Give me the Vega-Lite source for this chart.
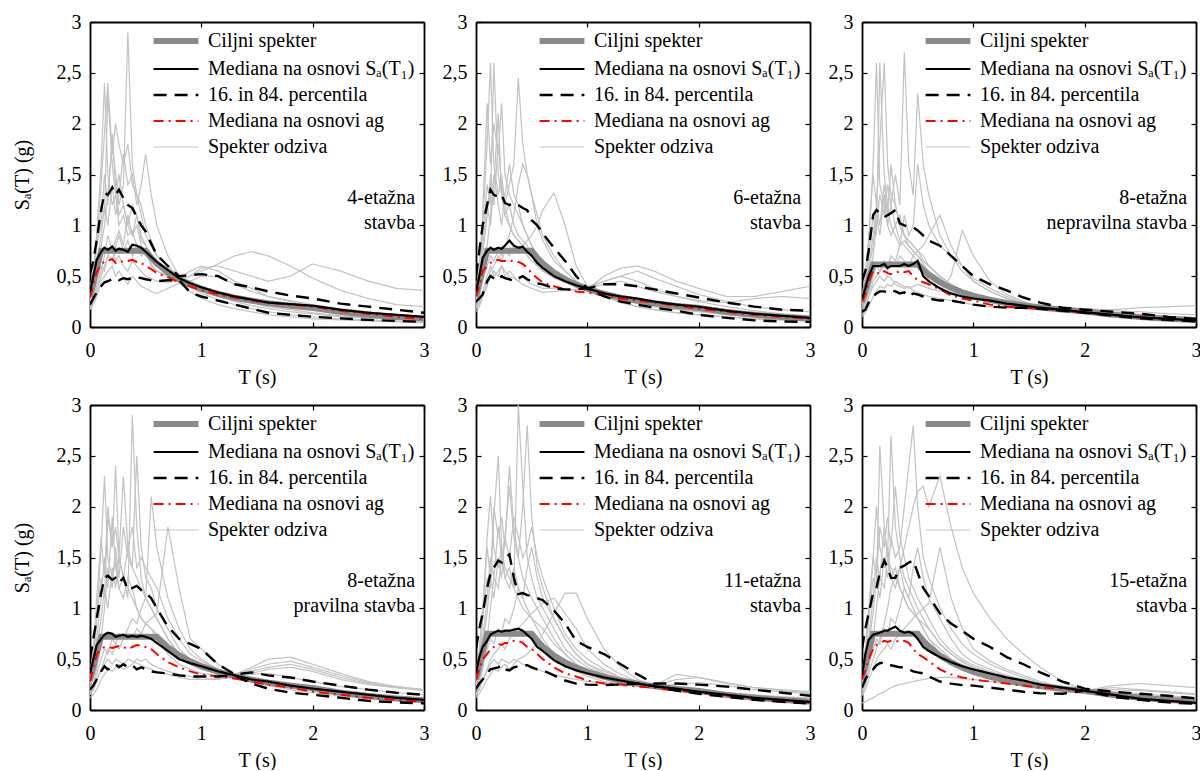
{
"$schema":"https://vega.github.io/schema/vega-lite/v6.json",
"background":"white",
"padding":{"left":12,"top":12,"right":0,"bottom":0},
"datasets":{
"keys":[{"k":"g1","s":"Spekter odziva"},{"k":"g2","s":"Spekter odziva"},{"k":"g3","s":"Spekter odziva"},{"k":"g4","s":"Spekter odziva"},{"k":"g5","s":"Spekter odziva"},{"k":"g6","s":"Spekter odziva"},{"k":"g7","s":"Spekter odziva"},{"k":"g8","s":"Spekter odziva"},{"k":"g9","s":"Spekter odziva"},{"k":"g10","s":"Spekter odziva"},{"k":"tgt","s":"Ciljni spekter"},{"k":"red","s":"Mediana na osnovi ag"},{"k":"p16","s":"16. in 84. percentila"},{"k":"p84","s":"16. in 84. percentila"},{"k":"med","s":"Mediana na osnovi S\u2090(T\u2081)"}],
"d":[
{"p":1,"T":0,"g1":0.25,"g2":0.2,"g3":0.3,"g4":0.18,"g5":0.35,"g6":0.22,"g7":0.25,"g8":0.2,"g9":0.3,"g10":0.17,"tgt":0.3,"med":0.34,"p16":0.22,"p84":0.52,"red":0.29},
{"p":1,"T":0.03,"g1":0.45,"g2":0.3,"g3":0.5,"g4":0.25,"g5":0.55,"g6":0.3,"g7":0.4,"g8":0.28,"g9":0.5,"g10":0.22,"tgt":0.435,"med":0.5,"p16":0.28,"p84":0.65,"red":0.42},
{"p":1,"T":0.06,"g1":0.9,"g2":0.5,"g3":0.8,"g4":0.35,"g5":0.9,"g6":0.45,"g7":0.6,"g8":0.4,"g9":0.8,"g10":0.3,"tgt":0.57,"med":0.66,"p16":0.34,"p84":0.85,"red":0.54},
{"p":1,"T":0.1,"g1":1.6,"g2":0.8,"g3":1.2,"g4":0.5,"g5":1.4,"g6":0.6,"g7":0.9,"g8":0.55,"g9":1,"g10":0.45,"tgt":0.75,"med":0.74,"p16":0.4,"p84":1.15,"red":0.62},
{"p":1,"T":0.13,"g1":2.4,"g2":1,"g3":1.1,"g4":0.6,"g5":1.9,"g6":0.55,"g7":1.2,"g8":0.7,"g9":1.5,"g10":0.5,"tgt":0.75,"med":0.78,"p16":0.44,"p84":1.32,"red":0.64},
{"p":1,"T":0.16,"g1":1.5,"g2":1.3,"g3":2.3,"g4":0.7,"g5":2.4,"g6":0.7,"g7":1,"g8":0.9,"g9":1.2,"g10":0.55,"tgt":0.75,"med":0.76,"p16":0.45,"p84":1.3,"red":0.65},
{"p":1,"T":0.2,"g1":1.2,"g2":1.8,"g3":1.6,"g4":0.65,"g5":1.7,"g6":0.8,"g7":1.4,"g8":0.75,"g9":1.9,"g10":0.6,"tgt":0.75,"med":0.79,"p16":0.47,"p84":1.37,"red":0.67},
{"p":1,"T":0.23,"g1":1.3,"g2":1.5,"g3":1.3,"g4":0.8,"g5":2,"g6":0.65,"g7":1.1,"g8":0.85,"g9":1.4,"g10":0.5,"tgt":0.75,"med":0.75,"p16":0.48,"p84":1.3,"red":0.63},
{"p":1,"T":0.26,"g1":1,"g2":1.2,"g3":1.5,"g4":0.9,"g5":1.8,"g6":0.7,"g7":1.3,"g8":0.95,"g9":1.1,"g10":0.55,"tgt":0.75,"med":0.77,"p16":0.46,"p84":1.35,"red":0.65},
{"p":1,"T":0.3,"g1":1.1,"g2":1.4,"g3":1.2,"g4":0.75,"g5":1.6,"g6":0.6,"g7":1.7,"g8":0.8,"g9":1.2,"g10":0.48,"tgt":0.75,"med":0.76,"p16":0.48,"p84":1.27,"red":0.64},
{"p":1,"T":0.34,"g1":0.9,"g2":2.9,"g3":1,"g4":0.85,"g5":1.8,"g6":0.55,"g7":1.4,"g8":1.1,"g9":1,"g10":0.42,"tgt":0.75,"med":0.74,"p16":0.47,"p84":1.2,"red":0.65},
{"p":1,"T":0.38,"g1":0.95,"g2":1.6,"g3":1.2,"g4":0.7,"g5":1.4,"g6":0.65,"g7":1.5,"g8":0.9,"g9":0.9,"g10":0.5,"tgt":0.75,"med":0.81,"p16":0.48,"p84":1.17,"red":0.66},
{"p":1,"T":0.42,"g1":0.8,"g2":1.3,"g3":1.1,"g4":0.8,"g5":1.3,"g6":0.6,"g7":1.2,"g8":1,"g9":1.1,"g10":0.45,"tgt":0.75,"med":0.8,"p16":0.49,"p84":1.08,"red":0.64},
{"p":1,"T":0.46,"g1":0.7,"g2":1.1,"g3":0.9,"g4":0.75,"g5":1.2,"g6":0.55,"g7":1.4,"g8":0.8,"g9":0.85,"g10":0.4,"tgt":0.75,"med":0.78,"p16":0.48,"p84":1,"red":0.63},
{"p":1,"T":0.5,"g1":0.75,"g2":0.9,"g3":0.8,"g4":0.7,"g5":1,"g6":0.5,"g7":1.7,"g8":0.75,"g9":0.8,"g10":0.38,"tgt":0.75,"med":0.74,"p16":0.47,"p84":0.94,"red":0.6},
{"p":1,"T":0.55,"g1":0.6,"g2":0.8,"g3":0.7,"g4":0.65,"g5":0.85,"g6":0.48,"g7":1.3,"g8":0.62,"g9":0.7,"g10":0.35,"tgt":0.682,"med":0.69,"p16":0.46,"p84":0.82,"red":0.57},
{"p":1,"T":0.6,"g1":0.55,"g2":0.7,"g3":0.6,"g4":0.6,"g5":0.7,"g6":0.45,"g7":1,"g8":0.55,"g9":0.65,"g10":0.33,"tgt":0.625,"med":0.64,"p16":0.45,"p84":0.71,"red":0.53},
{"p":1,"T":0.7,"g1":0.5,"g2":0.6,"g3":0.52,"g4":0.55,"g5":0.6,"g6":0.44,"g7":0.7,"g8":0.5,"g9":0.58,"g10":0.38,"tgt":0.536,"med":0.56,"p16":0.46,"p84":0.6,"red":0.49},
{"p":1,"T":0.8,"g1":0.47,"g2":0.48,"g3":0.45,"g4":0.47,"g5":0.5,"g6":0.46,"g7":0.5,"g8":0.44,"g9":0.47,"g10":0.43,"tgt":0.469,"med":0.48,"p16":0.46,"p84":0.5,"red":0.44},
{"p":1,"T":0.9,"g1":0.4,"g2":0.55,"g3":0.42,"g4":0.5,"g5":0.45,"g6":0.5,"g7":0.42,"g8":0.4,"g9":0.45,"g10":0.35,"tgt":0.417,"med":0.43,"p16":0.34,"p84":0.51,"red":0.4},
{"p":1,"T":1,"g1":0.33,"g2":0.6,"g3":0.38,"g4":0.55,"g5":0.4,"g6":0.58,"g7":0.36,"g8":0.35,"g9":0.5,"g10":0.28,"tgt":0.375,"med":0.39,"p16":0.3,"p84":0.52,"red":0.36},
{"p":1,"T":1.15,"g1":0.27,"g2":0.55,"g3":0.33,"g4":0.62,"g5":0.33,"g6":0.6,"g7":0.3,"g8":0.3,"g9":0.5,"g10":0.22,"tgt":0.326,"med":0.34,"p16":0.26,"p84":0.5,"red":0.32},
{"p":1,"T":1.3,"g1":0.22,"g2":0.45,"g3":0.3,"g4":0.7,"g5":0.28,"g6":0.55,"g7":0.25,"g8":0.26,"g9":0.42,"g10":0.18,"tgt":0.288,"med":0.3,"p16":0.22,"p84":0.42,"red":0.29},
{"p":1,"T":1.45,"g1":0.18,"g2":0.38,"g3":0.26,"g4":0.74,"g5":0.24,"g6":0.5,"g7":0.21,"g8":0.24,"g9":0.35,"g10":0.15,"tgt":0.259,"med":0.27,"p16":0.18,"p84":0.39,"red":0.26},
{"p":1,"T":1.6,"g1":0.15,"g2":0.3,"g3":0.22,"g4":0.7,"g5":0.2,"g6":0.45,"g7":0.18,"g8":0.22,"g9":0.3,"g10":0.12,"tgt":0.234,"med":0.24,"p16":0.14,"p84":0.35,"red":0.24},
{"p":1,"T":1.8,"g1":0.12,"g2":0.25,"g3":0.2,"g4":0.6,"g5":0.17,"g6":0.5,"g7":0.15,"g8":0.2,"g9":0.26,"g10":0.1,"tgt":0.208,"med":0.225,"p16":0.12,"p84":0.31,"red":0.22},
{"p":1,"T":2,"g1":0.1,"g2":0.2,"g3":0.17,"g4":0.48,"g5":0.14,"g6":0.62,"g7":0.13,"g8":0.18,"g9":0.22,"g10":0.08,"tgt":0.188,"med":0.21,"p16":0.1,"p84":0.28,"red":0.2},
{"p":1,"T":2.25,"g1":0.08,"g2":0.16,"g3":0.14,"g4":0.36,"g5":0.11,"g6":0.55,"g7":0.1,"g8":0.15,"g9":0.18,"g10":0.07,"tgt":0.148,"med":0.17,"p16":0.085,"p84":0.23,"red":0.16},
{"p":1,"T":2.5,"g1":0.07,"g2":0.13,"g3":0.12,"g4":0.28,"g5":0.09,"g6":0.45,"g7":0.09,"g8":0.13,"g9":0.15,"g10":0.06,"tgt":0.12,"med":0.14,"p16":0.07,"p84":0.2,"red":0.13},
{"p":1,"T":2.75,"g1":0.06,"g2":0.11,"g3":0.1,"g4":0.22,"g5":0.08,"g6":0.38,"g7":0.08,"g8":0.11,"g9":0.12,"g10":0.05,"tgt":0.099,"med":0.12,"p16":0.06,"p84":0.17,"red":0.1},
{"p":1,"T":3,"g1":0.05,"g2":0.1,"g3":0.09,"g4":0.2,"g5":0.07,"g6":0.36,"g7":0.07,"g8":0.1,"g9":0.1,"g10":0.04,"tgt":0.083,"med":0.1,"p16":0.05,"p84":0.14,"red":0.08},
{"p":2,"T":0,"g1":0.25,"g2":0.2,"g3":0.3,"g4":0.18,"g5":0.35,"g6":0.2,"g7":0.28,"g8":0.15,"g9":0.3,"g10":0.18,"tgt":0.3,"med":0.35,"p16":0.25,"p84":0.5,"red":0.3},
{"p":2,"T":0.03,"g1":0.5,"g2":0.3,"g3":0.55,"g4":0.22,"g5":0.6,"g6":0.3,"g7":0.4,"g8":0.2,"g9":0.45,"g10":0.25,"tgt":0.435,"med":0.5,"p16":0.28,"p84":0.75,"red":0.4},
{"p":2,"T":0.06,"g1":1,"g2":0.5,"g3":0.9,"g4":0.3,"g5":1.1,"g6":0.45,"g7":0.7,"g8":0.3,"g9":0.8,"g10":0.35,"tgt":0.57,"med":0.68,"p16":0.32,"p84":1,"red":0.55},
{"p":2,"T":0.1,"g1":1.8,"g2":0.8,"g3":1.4,"g4":0.45,"g5":2.2,"g6":0.6,"g7":1.1,"g8":0.4,"g9":1.2,"g10":0.5,"tgt":0.75,"med":0.75,"p16":0.45,"p84":1.2,"red":0.6},
{"p":2,"T":0.13,"g1":2.6,"g2":1.1,"g3":1.2,"g4":0.55,"g5":1.6,"g6":0.7,"g7":1.5,"g8":0.5,"g9":1,"g10":0.6,"tgt":0.75,"med":0.78,"p16":0.5,"p84":1.35,"red":0.63},
{"p":2,"T":0.16,"g1":1.6,"g2":1.5,"g3":2.6,"g4":0.6,"g5":2,"g6":0.65,"g7":1.2,"g8":0.55,"g9":1.4,"g10":0.5,"tgt":0.75,"med":0.76,"p16":0.48,"p84":1.3,"red":0.65},
{"p":2,"T":0.2,"g1":1.3,"g2":1.2,"g3":1.5,"g4":0.7,"g5":1.7,"g6":0.75,"g7":1.8,"g8":0.5,"g9":2.1,"g10":0.55,"tgt":0.75,"med":0.78,"p16":0.46,"p84":1.28,"red":0.66},
{"p":2,"T":0.23,"g1":1.5,"g2":1,"g3":1.3,"g4":0.65,"g5":2.2,"g6":0.7,"g7":1.4,"g8":0.6,"g9":1.3,"g10":0.6,"tgt":0.75,"med":0.77,"p16":0.5,"p84":1.3,"red":0.65},
{"p":2,"T":0.26,"g1":1.2,"g2":1.3,"g3":1.1,"g4":0.75,"g5":1.5,"g6":0.8,"g7":1.2,"g8":0.55,"g9":1.1,"g10":0.5,"tgt":0.75,"med":0.8,"p16":0.48,"p84":1.22,"red":0.65},
{"p":2,"T":0.3,"g1":1,"g2":1.6,"g3":1.2,"g4":0.7,"g5":1.3,"g6":0.9,"g7":1.4,"g8":0.5,"g9":1,"g10":0.55,"tgt":0.75,"med":0.85,"p16":0.47,"p84":1.2,"red":0.66},
{"p":2,"T":0.34,"g1":0.9,"g2":1.3,"g3":1,"g4":0.8,"g5":1.2,"g6":1.1,"g7":1.6,"g8":0.48,"g9":0.9,"g10":0.5,"tgt":0.75,"med":0.8,"p16":0.45,"p84":1.22,"red":0.64},
{"p":2,"T":0.38,"g1":0.85,"g2":1.2,"g3":0.9,"g4":0.75,"g5":1.1,"g6":1.4,"g7":2.45,"g8":0.45,"g9":0.85,"g10":0.45,"tgt":0.75,"med":0.78,"p16":0.48,"p84":1.2,"red":0.64},
{"p":2,"T":0.42,"g1":0.8,"g2":1,"g3":0.85,"g4":0.8,"g5":1,"g6":1.6,"g7":1.8,"g8":0.42,"g9":0.8,"g10":0.5,"tgt":0.75,"med":0.79,"p16":0.5,"p84":1.17,"red":0.62},
{"p":2,"T":0.46,"g1":0.7,"g2":0.9,"g3":0.8,"g4":0.85,"g5":0.9,"g6":1.5,"g7":1.5,"g8":0.4,"g9":0.75,"g10":0.45,"tgt":0.75,"med":0.74,"p16":0.47,"p84":1.15,"red":0.58},
{"p":2,"T":0.5,"g1":0.65,"g2":0.8,"g3":0.7,"g4":0.9,"g5":0.8,"g6":1.3,"g7":1.3,"g8":0.38,"g9":0.7,"g10":0.42,"tgt":0.75,"med":0.7,"p16":0.45,"p84":1.05,"red":0.53},
{"p":2,"T":0.55,"g1":0.6,"g2":0.7,"g3":0.65,"g4":1,"g5":0.7,"g6":1.1,"g7":1,"g8":0.36,"g9":0.6,"g10":0.4,"tgt":0.682,"med":0.63,"p16":0.43,"p84":1,"red":0.48},
{"p":2,"T":0.6,"g1":0.55,"g2":0.6,"g3":0.55,"g4":1.15,"g5":0.6,"g6":0.9,"g7":0.85,"g8":0.34,"g9":0.55,"g10":0.38,"tgt":0.625,"med":0.58,"p16":0.42,"p84":0.92,"red":0.44},
{"p":2,"T":0.7,"g1":0.5,"g2":0.5,"g3":0.48,"g4":1.32,"g5":0.55,"g6":0.7,"g7":0.65,"g8":0.35,"g9":0.5,"g10":0.38,"tgt":0.536,"med":0.5,"p16":0.38,"p84":0.78,"red":0.4},
{"p":2,"T":0.8,"g1":0.45,"g2":0.45,"g3":0.44,"g4":1,"g5":0.5,"g6":0.55,"g7":0.55,"g8":0.36,"g9":0.45,"g10":0.36,"tgt":0.469,"med":0.45,"p16":0.37,"p84":0.65,"red":0.37},
{"p":2,"T":0.9,"g1":0.4,"g2":0.42,"g3":0.4,"g4":0.6,"g5":0.42,"g6":0.45,"g7":0.45,"g8":0.37,"g9":0.4,"g10":0.37,"tgt":0.417,"med":0.41,"p16":0.37,"p84":0.5,"red":0.35},
{"p":2,"T":1,"g1":0.38,"g2":0.38,"g3":0.37,"g4":0.4,"g5":0.38,"g6":0.39,"g7":0.38,"g8":0.37,"g9":0.38,"g10":0.38,"tgt":0.375,"med":0.38,"p16":0.38,"p84":0.38,"red":0.34},
{"p":2,"T":1.15,"g1":0.32,"g2":0.45,"g3":0.33,"g4":0.45,"g5":0.3,"g6":0.35,"g7":0.32,"g8":0.5,"g9":0.3,"g10":0.42,"tgt":0.326,"med":0.33,"p16":0.3,"p84":0.42,"red":0.31},
{"p":2,"T":1.3,"g1":0.27,"g2":0.5,"g3":0.28,"g4":0.5,"g5":0.25,"g6":0.3,"g7":0.27,"g8":0.58,"g9":0.24,"g10":0.45,"tgt":0.288,"med":0.3,"p16":0.25,"p84":0.42,"red":0.28},
{"p":2,"T":1.45,"g1":0.23,"g2":0.55,"g3":0.24,"g4":0.45,"g5":0.2,"g6":0.26,"g7":0.24,"g8":0.6,"g9":0.2,"g10":0.4,"tgt":0.259,"med":0.28,"p16":0.22,"p84":0.4,"red":0.26},
{"p":2,"T":1.6,"g1":0.2,"g2":0.48,"g3":0.21,"g4":0.38,"g5":0.17,"g6":0.24,"g7":0.21,"g8":0.55,"g9":0.17,"g10":0.35,"tgt":0.234,"med":0.25,"p16":0.19,"p84":0.37,"red":0.24},
{"p":2,"T":1.8,"g1":0.17,"g2":0.4,"g3":0.18,"g4":0.3,"g5":0.14,"g6":0.21,"g7":0.18,"g8":0.45,"g9":0.14,"g10":0.3,"tgt":0.208,"med":0.22,"p16":0.16,"p84":0.33,"red":0.21},
{"p":2,"T":2,"g1":0.15,"g2":0.32,"g3":0.16,"g4":0.25,"g5":0.12,"g6":0.19,"g7":0.16,"g8":0.38,"g9":0.12,"g10":0.26,"tgt":0.188,"med":0.2,"p16":0.12,"p84":0.29,"red":0.18},
{"p":2,"T":2.25,"g1":0.12,"g2":0.25,"g3":0.13,"g4":0.2,"g5":0.1,"g6":0.16,"g7":0.14,"g8":0.3,"g9":0.1,"g10":0.24,"tgt":0.148,"med":0.16,"p16":0.09,"p84":0.24,"red":0.15},
{"p":2,"T":2.5,"g1":0.1,"g2":0.2,"g3":0.11,"g4":0.16,"g5":0.08,"g6":0.14,"g7":0.12,"g8":0.3,"g9":0.08,"g10":0.28,"tgt":0.12,"med":0.13,"p16":0.065,"p84":0.2,"red":0.12},
{"p":2,"T":2.75,"g1":0.08,"g2":0.17,"g3":0.09,"g4":0.13,"g5":0.07,"g6":0.12,"g7":0.1,"g8":0.35,"g9":0.07,"g10":0.3,"tgt":0.099,"med":0.11,"p16":0.055,"p84":0.17,"red":0.1},
{"p":2,"T":3,"g1":0.07,"g2":0.15,"g3":0.08,"g4":0.11,"g5":0.06,"g6":0.1,"g7":0.09,"g8":0.4,"g9":0.06,"g10":0.28,"tgt":0.083,"med":0.09,"p16":0.05,"p84":0.16,"red":0.08},
{"p":3,"T":0,"g1":0.2,"g2":0.15,"g3":0.25,"g4":0.12,"g5":0.3,"g6":0.18,"g7":0.22,"g8":0.1,"g9":0.25,"g10":0.15,"tgt":0.246,"med":0.28,"p16":0.15,"p84":0.45,"red":0.25},
{"p":3,"T":0.03,"g1":0.4,"g2":0.22,"g3":0.45,"g4":0.18,"g5":0.5,"g6":0.25,"g7":0.35,"g8":0.14,"g9":0.4,"g10":0.2,"tgt":0.357,"med":0.38,"p16":0.17,"p84":0.55,"red":0.32},
{"p":3,"T":0.06,"g1":0.8,"g2":0.4,"g3":0.7,"g4":0.3,"g5":0.9,"g6":0.35,"g7":0.55,"g8":0.2,"g9":0.6,"g10":0.3,"tgt":0.467,"med":0.5,"p16":0.24,"p84":0.75,"red":0.45},
{"p":3,"T":0.1,"g1":1.6,"g2":0.7,"g3":1.1,"g4":0.45,"g5":1.5,"g6":0.5,"g7":0.8,"g8":0.3,"g9":0.9,"g10":0.4,"tgt":0.615,"med":0.6,"p16":0.3,"p84":1.1,"red":0.55},
{"p":3,"T":0.13,"g1":2.6,"g2":1,"g3":0.9,"g4":0.5,"g5":1.2,"g6":0.6,"g7":1.1,"g8":0.35,"g9":1.2,"g10":0.45,"tgt":0.615,"med":0.6,"p16":0.33,"p84":1.15,"red":0.54},
{"p":3,"T":0.16,"g1":1.4,"g2":1.3,"g3":2.6,"g4":0.55,"g5":1.8,"g6":0.55,"g7":0.9,"g8":0.4,"g9":1,"g10":0.5,"tgt":0.615,"med":0.6,"p16":0.35,"p84":1.12,"red":0.52},
{"p":3,"T":0.2,"g1":1.2,"g2":1.1,"g3":1.5,"g4":0.6,"g5":2.6,"g6":0.65,"g7":1.3,"g8":0.38,"g9":1.4,"g10":0.45,"tgt":0.615,"med":0.62,"p16":0.35,"p84":1.08,"red":0.55},
{"p":3,"T":0.23,"g1":1,"g2":1.4,"g3":1.2,"g4":0.55,"g5":1.6,"g6":0.6,"g7":1,"g8":0.42,"g9":1.1,"g10":0.5,"tgt":0.615,"med":0.58,"p16":0.34,"p84":1.1,"red":0.53},
{"p":3,"T":0.26,"g1":0.9,"g2":1.2,"g3":1,"g4":0.65,"g5":1.3,"g6":0.7,"g7":1.2,"g8":0.4,"g9":1.6,"g10":0.48,"tgt":0.615,"med":0.6,"p16":0.36,"p84":1.12,"red":0.52},
{"p":3,"T":0.3,"g1":1,"g2":1,"g3":0.9,"g4":0.6,"g5":1.2,"g6":0.65,"g7":1.5,"g8":0.45,"g9":1.2,"g10":0.42,"tgt":0.615,"med":0.6,"p16":0.35,"p84":1.15,"red":0.53},
{"p":3,"T":0.34,"g1":0.85,"g2":1.1,"g3":0.8,"g4":0.7,"g5":1,"g6":0.8,"g7":1.2,"g8":0.42,"g9":1,"g10":0.4,"tgt":0.615,"med":0.6,"p16":0.33,"p84":1.02,"red":0.55},
{"p":3,"T":0.38,"g1":0.8,"g2":0.9,"g3":0.85,"g4":0.65,"g5":0.9,"g6":1.1,"g7":2.7,"g8":0.4,"g9":0.9,"g10":0.38,"tgt":0.615,"med":0.62,"p16":0.34,"p84":1,"red":0.54},
{"p":3,"T":0.42,"g1":0.75,"g2":0.85,"g3":0.8,"g4":0.6,"g5":0.85,"g6":0.9,"g7":1.6,"g8":0.38,"g9":0.8,"g10":0.4,"tgt":0.615,"med":0.6,"p16":0.3,"p84":0.98,"red":0.55},
{"p":3,"T":0.46,"g1":0.7,"g2":0.8,"g3":0.75,"g4":0.7,"g5":0.8,"g6":1,"g7":1.3,"g8":0.4,"g9":0.75,"g10":0.36,"tgt":0.615,"med":0.62,"p16":0.33,"p84":0.98,"red":0.5},
{"p":3,"T":0.5,"g1":0.65,"g2":0.75,"g3":0.7,"g4":0.75,"g5":0.75,"g6":1.6,"g7":2.3,"g8":0.42,"g9":0.7,"g10":0.34,"tgt":0.615,"med":0.65,"p16":0.32,"p84":0.95,"red":0.46},
{"p":3,"T":0.55,"g1":0.6,"g2":0.7,"g3":0.65,"g4":0.8,"g5":0.65,"g6":1.2,"g7":1.6,"g8":0.4,"g9":0.62,"g10":0.32,"tgt":0.559,"med":0.5,"p16":0.3,"p84":0.9,"red":0.44},
{"p":3,"T":0.6,"g1":0.55,"g2":0.6,"g3":0.6,"g4":0.9,"g5":0.6,"g6":1,"g7":1.3,"g8":0.38,"g9":0.55,"g10":0.3,"tgt":0.512,"med":0.45,"p16":0.28,"p84":0.85,"red":0.42},
{"p":3,"T":0.7,"g1":0.45,"g2":0.5,"g3":0.5,"g4":1.1,"g5":0.5,"g6":0.8,"g7":0.9,"g8":0.35,"g9":0.48,"g10":0.28,"tgt":0.44,"med":0.38,"p16":0.26,"p84":0.8,"red":0.37},
{"p":3,"T":0.8,"g1":0.38,"g2":0.42,"g3":0.42,"g4":0.8,"g5":0.42,"g6":0.7,"g7":0.7,"g8":0.5,"g9":0.4,"g10":0.26,"tgt":0.385,"med":0.33,"p16":0.26,"p84":0.7,"red":0.31},
{"p":3,"T":0.9,"g1":0.32,"g2":0.36,"g3":0.36,"g4":0.6,"g5":0.36,"g6":0.6,"g7":0.55,"g8":0.95,"g9":0.34,"g10":0.24,"tgt":0.342,"med":0.3,"p16":0.24,"p84":0.6,"red":0.28},
{"p":3,"T":1,"g1":0.28,"g2":0.3,"g3":0.32,"g4":0.45,"g5":0.3,"g6":0.48,"g7":0.45,"g8":0.7,"g9":0.3,"g10":0.22,"tgt":0.308,"med":0.28,"p16":0.22,"p84":0.5,"red":0.26},
{"p":3,"T":1.15,"g1":0.24,"g2":0.26,"g3":0.27,"g4":0.35,"g5":0.26,"g6":0.38,"g7":0.35,"g8":0.45,"g9":0.25,"g10":0.2,"tgt":0.267,"med":0.26,"p16":0.2,"p84":0.42,"red":0.22},
{"p":3,"T":1.3,"g1":0.21,"g2":0.22,"g3":0.24,"g4":0.28,"g5":0.23,"g6":0.3,"g7":0.28,"g8":0.32,"g9":0.22,"g10":0.19,"tgt":0.236,"med":0.23,"p16":0.19,"p84":0.36,"red":0.2},
{"p":3,"T":1.45,"g1":0.19,"g2":0.2,"g3":0.21,"g4":0.22,"g5":0.2,"g6":0.24,"g7":0.24,"g8":0.25,"g9":0.19,"g10":0.18,"tgt":0.212,"med":0.21,"p16":0.19,"p84":0.29,"red":0.19},
{"p":3,"T":1.6,"g1":0.18,"g2":0.18,"g3":0.19,"g4":0.19,"g5":0.18,"g6":0.2,"g7":0.2,"g8":0.2,"g9":0.18,"g10":0.17,"tgt":0.192,"med":0.19,"p16":0.18,"p84":0.24,"red":0.18},
{"p":3,"T":1.8,"g1":0.17,"g2":0.16,"g3":0.17,"g4":0.18,"g5":0.17,"g6":0.17,"g7":0.16,"g8":0.18,"g9":0.17,"g10":0.17,"tgt":0.171,"med":0.17,"p16":0.16,"p84":0.19,"red":0.165},
{"p":3,"T":2,"g1":0.15,"g2":0.17,"g3":0.14,"g4":0.16,"g5":0.15,"g6":0.18,"g7":0.14,"g8":0.16,"g9":0.16,"g10":0.13,"tgt":0.154,"med":0.145,"p16":0.14,"p84":0.17,"red":0.14},
{"p":3,"T":2.25,"g1":0.12,"g2":0.16,"g3":0.11,"g4":0.14,"g5":0.12,"g6":0.17,"g7":0.11,"g8":0.13,"g9":0.14,"g10":0.1,"tgt":0.121,"med":0.12,"p16":0.11,"p84":0.15,"red":0.12},
{"p":3,"T":2.5,"g1":0.1,"g2":0.15,"g3":0.09,"g4":0.12,"g5":0.1,"g6":0.19,"g7":0.09,"g8":0.11,"g9":0.12,"g10":0.08,"tgt":0.098,"med":0.095,"p16":0.085,"p84":0.13,"red":0.1},
{"p":3,"T":2.75,"g1":0.08,"g2":0.13,"g3":0.07,"g4":0.1,"g5":0.08,"g6":0.2,"g7":0.07,"g8":0.09,"g9":0.1,"g10":0.06,"tgt":0.081,"med":0.08,"p16":0.07,"p84":0.1,"red":0.08},
{"p":3,"T":3,"g1":0.07,"g2":0.12,"g3":0.06,"g4":0.09,"g5":0.07,"g6":0.21,"g7":0.06,"g8":0.08,"g9":0.09,"g10":0.05,"tgt":0.068,"med":0.065,"p16":0.055,"p84":0.08,"red":0.06},
{"p":4,"T":0,"g1":0.2,"g2":0.15,"g3":0.3,"g4":0.15,"g5":0.35,"g6":0.18,"g7":0.25,"g8":0.12,"g9":0.28,"g10":0.16,"tgt":0.29,"med":0.36,"p16":0.2,"p84":0.5,"red":0.28},
{"p":4,"T":0.03,"g1":0.4,"g2":0.25,"g3":0.5,"g4":0.2,"g5":0.6,"g6":0.25,"g7":0.35,"g8":0.15,"g9":0.4,"g10":0.2,"tgt":0.42,"med":0.5,"p16":0.24,"p84":0.7,"red":0.4},
{"p":4,"T":0.06,"g1":0.9,"g2":0.4,"g3":0.9,"g4":0.28,"g5":1.1,"g6":0.35,"g7":0.6,"g8":0.2,"g9":0.7,"g10":0.3,"tgt":0.55,"med":0.64,"p16":0.3,"p84":0.9,"red":0.55},
{"p":4,"T":0.1,"g1":1.6,"g2":0.7,"g3":1.3,"g4":0.4,"g5":1.7,"g6":0.5,"g7":0.9,"g8":0.3,"g9":1.1,"g10":0.4,"tgt":0.72,"med":0.7,"p16":0.38,"p84":1.15,"red":0.6},
{"p":4,"T":0.13,"g1":2.3,"g2":1,"g3":1.1,"g4":0.5,"g5":1.3,"g6":0.6,"g7":1.2,"g8":0.35,"g9":1.5,"g10":0.45,"tgt":0.72,"med":0.74,"p16":0.43,"p84":1.3,"red":0.62},
{"p":4,"T":0.16,"g1":1.5,"g2":1.4,"g3":1.9,"g4":0.6,"g5":2,"g6":0.55,"g7":1,"g8":0.4,"g9":1.2,"g10":0.5,"tgt":0.72,"med":0.76,"p16":0.4,"p84":1.32,"red":0.62},
{"p":4,"T":0.2,"g1":1.3,"g2":1.2,"g3":1.6,"g4":0.55,"g5":1.6,"g6":0.7,"g7":1.4,"g8":0.38,"g9":1.9,"g10":0.45,"tgt":0.72,"med":0.75,"p16":0.42,"p84":1.28,"red":0.61},
{"p":4,"T":0.23,"g1":1.5,"g2":1.6,"g3":2.4,"g4":0.65,"g5":1.8,"g6":0.65,"g7":1.2,"g8":0.42,"g9":1.4,"g10":0.5,"tgt":0.72,"med":0.72,"p16":0.45,"p84":1.3,"red":0.62},
{"p":4,"T":0.26,"g1":1.2,"g2":1.3,"g3":1.5,"g4":0.6,"g5":1.5,"g6":0.75,"g7":1.5,"g8":0.45,"g9":1.2,"g10":0.48,"tgt":0.72,"med":0.73,"p16":0.42,"p84":1.25,"red":0.63},
{"p":4,"T":0.3,"g1":1.3,"g2":1.8,"g3":1.3,"g4":0.7,"g5":2.3,"g6":0.7,"g7":1.3,"g8":0.4,"g9":1.1,"g10":0.45,"tgt":0.72,"med":0.74,"p16":0.45,"p84":1.3,"red":0.62},
{"p":4,"T":0.34,"g1":1.1,"g2":1.5,"g3":1.2,"g4":0.75,"g5":1.6,"g6":0.8,"g7":1.6,"g8":0.42,"g9":1.3,"g10":0.5,"tgt":0.72,"med":0.72,"p16":0.42,"p84":1.18,"red":0.6},
{"p":4,"T":0.38,"g1":2.9,"g2":1.4,"g3":1.1,"g4":0.7,"g5":1.4,"g6":0.9,"g7":1.8,"g8":0.45,"g9":1.2,"g10":0.48,"tgt":0.72,"med":0.73,"p16":0.44,"p84":1.2,"red":0.62},
{"p":4,"T":0.42,"g1":1.8,"g2":2.5,"g3":1,"g4":0.8,"g5":1.3,"g6":0.85,"g7":1.4,"g8":0.5,"g9":1,"g10":0.46,"tgt":0.72,"med":0.72,"p16":0.4,"p84":1.22,"red":0.64},
{"p":4,"T":0.46,"g1":1.3,"g2":1.6,"g3":0.9,"g4":0.75,"g5":1.2,"g6":1,"g7":1.5,"g8":0.48,"g9":0.9,"g10":0.44,"tgt":0.72,"med":0.73,"p16":0.42,"p84":1.18,"red":0.63},
{"p":4,"T":0.5,"g1":1.1,"g2":1.3,"g3":0.85,"g4":0.85,"g5":1.1,"g6":1.1,"g7":1.4,"g8":0.5,"g9":0.85,"g10":0.42,"tgt":0.72,"med":0.72,"p16":0.4,"p84":1.15,"red":0.62},
{"p":4,"T":0.55,"g1":1,"g2":1.2,"g3":0.8,"g4":0.9,"g5":1,"g6":2.1,"g7":1.3,"g8":0.45,"g9":0.8,"g10":0.4,"tgt":0.72,"med":0.7,"p16":0.38,"p84":1.1,"red":0.6},
{"p":4,"T":0.6,"g1":0.9,"g2":1,"g3":0.75,"g4":0.95,"g5":0.9,"g6":1.6,"g7":1.2,"g8":0.42,"g9":0.7,"g10":0.38,"tgt":0.72,"med":0.66,"p16":0.37,"p84":1,"red":0.55},
{"p":4,"T":0.7,"g1":0.7,"g2":0.8,"g3":0.6,"g4":1.8,"g5":0.7,"g6":1.1,"g7":0.9,"g8":0.38,"g9":0.55,"g10":0.35,"tgt":0.617,"med":0.58,"p16":0.36,"p84":0.82,"red":0.47},
{"p":4,"T":0.8,"g1":0.55,"g2":0.6,"g3":0.5,"g4":1.2,"g5":0.55,"g6":0.8,"g7":0.7,"g8":0.35,"g9":0.45,"g10":0.32,"tgt":0.54,"med":0.5,"p16":0.34,"p84":0.7,"red":0.42},
{"p":4,"T":0.9,"g1":0.45,"g2":0.5,"g3":0.45,"g4":0.7,"g5":0.45,"g6":0.6,"g7":0.55,"g8":0.33,"g9":0.4,"g10":0.3,"tgt":0.48,"med":0.46,"p16":0.33,"p84":0.65,"red":0.38},
{"p":4,"T":1,"g1":0.4,"g2":0.45,"g3":0.4,"g4":0.6,"g5":0.4,"g6":0.5,"g7":0.48,"g8":0.3,"g9":0.36,"g10":0.3,"tgt":0.432,"med":0.43,"p16":0.33,"p84":0.6,"red":0.35},
{"p":4,"T":1.15,"g1":0.37,"g2":0.38,"g3":0.36,"g4":0.45,"g5":0.36,"g6":0.4,"g7":0.4,"g8":0.3,"g9":0.34,"g10":0.31,"tgt":0.376,"med":0.38,"p16":0.33,"p84":0.45,"red":0.33},
{"p":4,"T":1.3,"g1":0.34,"g2":0.34,"g3":0.33,"g4":0.34,"g5":0.34,"g6":0.35,"g7":0.34,"g8":0.33,"g9":0.33,"g10":0.34,"tgt":0.332,"med":0.34,"p16":0.34,"p84":0.35,"red":0.31},
{"p":4,"T":1.45,"g1":0.35,"g2":0.4,"g3":0.3,"g4":0.3,"g5":0.32,"g6":0.42,"g7":0.3,"g8":0.36,"g9":0.28,"g10":0.38,"tgt":0.298,"med":0.3,"p16":0.26,"p84":0.37,"red":0.28},
{"p":4,"T":1.6,"g1":0.36,"g2":0.45,"g3":0.27,"g4":0.26,"g5":0.28,"g6":0.5,"g7":0.26,"g8":0.4,"g9":0.24,"g10":0.42,"tgt":0.27,"med":0.28,"p16":0.21,"p84":0.34,"red":0.25},
{"p":4,"T":1.8,"g1":0.32,"g2":0.48,"g3":0.24,"g4":0.22,"g5":0.24,"g6":0.52,"g7":0.22,"g8":0.42,"g9":0.2,"g10":0.45,"tgt":0.24,"med":0.24,"p16":0.17,"p84":0.32,"red":0.22},
{"p":4,"T":2,"g1":0.28,"g2":0.42,"g3":0.2,"g4":0.19,"g5":0.2,"g6":0.45,"g7":0.19,"g8":0.38,"g9":0.17,"g10":0.4,"tgt":0.216,"med":0.21,"p16":0.15,"p84":0.28,"red":0.18},
{"p":4,"T":2.25,"g1":0.23,"g2":0.34,"g3":0.16,"g4":0.16,"g5":0.16,"g6":0.36,"g7":0.16,"g8":0.3,"g9":0.14,"g10":0.32,"tgt":0.171,"med":0.18,"p16":0.12,"p84":0.24,"red":0.15},
{"p":4,"T":2.5,"g1":0.2,"g2":0.27,"g3":0.13,"g4":0.13,"g5":0.13,"g6":0.28,"g7":0.13,"g8":0.25,"g9":0.11,"g10":0.26,"tgt":0.138,"med":0.15,"p16":0.09,"p84":0.2,"red":0.12},
{"p":4,"T":2.75,"g1":0.17,"g2":0.23,"g3":0.11,"g4":0.11,"g5":0.11,"g6":0.23,"g7":0.11,"g8":0.22,"g9":0.09,"g10":0.22,"tgt":0.114,"med":0.12,"p16":0.075,"p84":0.17,"red":0.1},
{"p":4,"T":3,"g1":0.15,"g2":0.2,"g3":0.09,"g4":0.09,"g5":0.1,"g6":0.2,"g7":0.09,"g8":0.2,"g9":0.08,"g10":0.19,"tgt":0.096,"med":0.1,"p16":0.065,"p84":0.15,"red":0.08},
{"p":5,"T":0,"g1":0.22,"g2":0.15,"g3":0.3,"g4":0.14,"g5":0.35,"g6":0.2,"g7":0.25,"g8":0.12,"g9":0.3,"g10":0.16,"tgt":0.3,"med":0.36,"p16":0.21,"p84":0.6,"red":0.3},
{"p":5,"T":0.03,"g1":0.45,"g2":0.25,"g3":0.55,"g4":0.2,"g5":0.6,"g6":0.3,"g7":0.4,"g8":0.16,"g9":0.45,"g10":0.22,"tgt":0.435,"med":0.52,"p16":0.26,"p84":0.8,"red":0.4},
{"p":5,"T":0.06,"g1":0.9,"g2":0.4,"g3":0.9,"g4":0.3,"g5":1,"g6":0.45,"g7":0.65,"g8":0.22,"g9":0.7,"g10":0.3,"tgt":0.57,"med":0.62,"p16":0.3,"p84":0.95,"red":0.5},
{"p":5,"T":0.1,"g1":1.7,"g2":0.7,"g3":1.3,"g4":0.4,"g5":1.6,"g6":0.6,"g7":0.95,"g8":0.3,"g9":1.1,"g10":0.38,"tgt":0.75,"med":0.68,"p16":0.36,"p84":1.2,"red":0.55},
{"p":5,"T":0.13,"g1":2.1,"g2":1,"g3":1.2,"g4":0.5,"g5":1.3,"g6":0.7,"g7":1.3,"g8":0.35,"g9":1.5,"g10":0.45,"tgt":0.75,"med":0.74,"p16":0.4,"p84":1.34,"red":0.6},
{"p":5,"T":0.16,"g1":1.6,"g2":1.3,"g3":1.9,"g4":0.55,"g5":2,"g6":0.65,"g7":1.1,"g8":0.4,"g9":1.3,"g10":0.5,"tgt":0.75,"med":0.76,"p16":0.41,"p84":1.4,"red":0.62},
{"p":5,"T":0.2,"g1":1.4,"g2":1.2,"g3":2.5,"g4":0.6,"g5":1.7,"g6":0.8,"g7":1.5,"g8":0.38,"g9":1.8,"g10":0.45,"tgt":0.75,"med":0.78,"p16":0.42,"p84":1.47,"red":0.65},
{"p":5,"T":0.23,"g1":1.6,"g2":1.5,"g3":1.6,"g4":0.65,"g5":1.9,"g6":0.75,"g7":1.3,"g8":0.42,"g9":1.5,"g10":0.5,"tgt":0.75,"med":0.77,"p16":0.44,"p84":1.45,"red":0.64},
{"p":5,"T":0.26,"g1":1.3,"g2":1.7,"g3":1.4,"g4":0.6,"g5":1.6,"g6":0.9,"g7":1.7,"g8":0.45,"g9":1.3,"g10":0.48,"tgt":0.75,"med":0.78,"p16":0.4,"p84":1.5,"red":0.66},
{"p":5,"T":0.3,"g1":1.4,"g2":2.2,"g3":1.3,"g4":0.7,"g5":2.4,"g6":0.85,"g7":1.5,"g8":0.4,"g9":1.2,"g10":0.46,"tgt":0.75,"med":0.78,"p16":0.39,"p84":1.53,"red":0.66},
{"p":5,"T":0.34,"g1":1.2,"g2":1.7,"g3":1.2,"g4":0.75,"g5":1.8,"g6":1,"g7":1.9,"g8":0.45,"g9":1.4,"g10":0.5,"tgt":0.75,"med":0.79,"p16":0.42,"p84":1.3,"red":0.68},
{"p":5,"T":0.38,"g1":3,"g2":1.5,"g3":1.1,"g4":0.8,"g5":1.5,"g6":1.2,"g7":1.7,"g8":0.5,"g9":1.2,"g10":0.48,"tgt":0.75,"med":0.8,"p16":0.43,"p84":1.14,"red":0.68},
{"p":5,"T":0.42,"g1":2.2,"g2":2,"g3":1,"g4":0.85,"g5":1.3,"g6":1.1,"g7":1.5,"g8":0.52,"g9":1.1,"g10":0.45,"tgt":0.75,"med":0.78,"p16":0.44,"p84":1.15,"red":0.66},
{"p":5,"T":0.46,"g1":1.5,"g2":2.8,"g3":0.95,"g4":0.9,"g5":1.2,"g6":1.4,"g7":1.6,"g8":0.55,"g9":1,"g10":0.44,"tgt":0.75,"med":0.74,"p16":0.44,"p84":1.13,"red":0.62},
{"p":5,"T":0.5,"g1":1.3,"g2":1.9,"g3":0.9,"g4":0.95,"g5":1.1,"g6":1.6,"g7":1.8,"g8":0.6,"g9":0.9,"g10":0.42,"tgt":0.75,"med":0.7,"p16":0.42,"p84":1.12,"red":0.6},
{"p":5,"T":0.55,"g1":1.1,"g2":1.4,"g3":0.85,"g4":1,"g5":1,"g6":1.3,"g7":1.5,"g8":0.65,"g9":0.8,"g10":0.4,"tgt":0.682,"med":0.62,"p16":0.4,"p84":1.1,"red":0.55},
{"p":5,"T":0.6,"g1":1,"g2":1.2,"g3":0.8,"g4":1.05,"g5":0.9,"g6":1.1,"g7":1.3,"g8":0.75,"g9":0.7,"g10":0.38,"tgt":0.625,"med":0.58,"p16":0.39,"p84":1.08,"red":0.5},
{"p":5,"T":0.7,"g1":0.8,"g2":0.9,"g3":0.65,"g4":1.1,"g5":0.7,"g6":0.9,"g7":1,"g8":0.95,"g9":0.55,"g10":0.35,"tgt":0.536,"med":0.49,"p16":0.34,"p84":0.98,"red":0.42},
{"p":5,"T":0.8,"g1":0.6,"g2":0.7,"g3":0.55,"g4":0.95,"g5":0.55,"g6":0.7,"g7":0.75,"g8":1.15,"g9":0.45,"g10":0.32,"tgt":0.469,"med":0.43,"p16":0.29,"p84":0.85,"red":0.36},
{"p":5,"T":0.9,"g1":0.5,"g2":0.55,"g3":0.45,"g4":0.8,"g5":0.45,"g6":0.55,"g7":0.6,"g8":1.15,"g9":0.38,"g10":0.3,"tgt":0.417,"med":0.39,"p16":0.26,"p84":0.68,"red":0.33},
{"p":5,"T":1,"g1":0.42,"g2":0.45,"g3":0.4,"g4":0.6,"g5":0.38,"g6":0.45,"g7":0.5,"g8":0.9,"g9":0.33,"g10":0.28,"tgt":0.375,"med":0.36,"p16":0.25,"p84":0.62,"red":0.29},
{"p":5,"T":1.15,"g1":0.35,"g2":0.38,"g3":0.33,"g4":0.45,"g5":0.32,"g6":0.36,"g7":0.4,"g8":0.6,"g9":0.28,"g10":0.27,"tgt":0.326,"med":0.32,"p16":0.245,"p84":0.55,"red":0.26},
{"p":5,"T":1.3,"g1":0.3,"g2":0.32,"g3":0.28,"g4":0.35,"g5":0.27,"g6":0.3,"g7":0.32,"g8":0.42,"g9":0.25,"g10":0.26,"tgt":0.288,"med":0.29,"p16":0.25,"p84":0.45,"red":0.25},
{"p":5,"T":1.45,"g1":0.26,"g2":0.27,"g3":0.25,"g4":0.28,"g5":0.25,"g6":0.26,"g7":0.27,"g8":0.3,"g9":0.24,"g10":0.25,"tgt":0.259,"med":0.26,"p16":0.26,"p84":0.35,"red":0.23},
{"p":5,"T":1.6,"g1":0.24,"g2":0.23,"g3":0.235,"g4":0.24,"g5":0.23,"g6":0.24,"g7":0.235,"g8":0.24,"g9":0.23,"g10":0.24,"tgt":0.234,"med":0.235,"p16":0.235,"p84":0.26,"red":0.22},
{"p":5,"T":1.8,"g1":0.22,"g2":0.2,"g3":0.22,"g4":0.3,"g5":0.2,"g6":0.25,"g7":0.21,"g8":0.2,"g9":0.22,"g10":0.35,"tgt":0.208,"med":0.21,"p16":0.19,"p84":0.26,"red":0.19},
{"p":5,"T":2,"g1":0.19,"g2":0.17,"g3":0.2,"g4":0.32,"g5":0.17,"g6":0.27,"g7":0.18,"g8":0.17,"g9":0.2,"g10":0.32,"tgt":0.188,"med":0.18,"p16":0.16,"p84":0.25,"red":0.17},
{"p":5,"T":2.25,"g1":0.16,"g2":0.14,"g3":0.17,"g4":0.27,"g5":0.14,"g6":0.24,"g7":0.15,"g8":0.14,"g9":0.17,"g10":0.26,"tgt":0.148,"med":0.15,"p16":0.13,"p84":0.23,"red":0.14},
{"p":5,"T":2.5,"g1":0.13,"g2":0.12,"g3":0.14,"g4":0.22,"g5":0.11,"g6":0.2,"g7":0.12,"g8":0.11,"g9":0.15,"g10":0.22,"tgt":0.12,"med":0.12,"p16":0.1,"p84":0.2,"red":0.11},
{"p":5,"T":2.75,"g1":0.11,"g2":0.1,"g3":0.12,"g4":0.19,"g5":0.09,"g6":0.18,"g7":0.1,"g8":0.09,"g9":0.13,"g10":0.2,"tgt":0.099,"med":0.1,"p16":0.08,"p84":0.17,"red":0.09},
{"p":5,"T":3,"g1":0.1,"g2":0.08,"g3":0.1,"g4":0.17,"g5":0.08,"g6":0.16,"g7":0.09,"g8":0.08,"g9":0.12,"g10":0.18,"tgt":0.083,"med":0.08,"p16":0.065,"p84":0.14,"red":0.07},
{"p":6,"T":0,"g1":0.22,"g2":0.15,"g3":0.3,"g4":0.14,"g5":0.35,"g6":0.2,"g7":0.25,"g8":0.07,"g9":0.3,"g10":0.18,"tgt":0.3,"med":0.34,"p16":0.22,"p84":0.6,"red":0.3},
{"p":6,"T":0.03,"g1":0.45,"g2":0.25,"g3":0.55,"g4":0.2,"g5":0.6,"g6":0.3,"g7":0.4,"g8":0.08,"g9":0.45,"g10":0.25,"tgt":0.435,"med":0.55,"p16":0.3,"p84":0.8,"red":0.4},
{"p":6,"T":0.06,"g1":0.9,"g2":0.4,"g3":0.9,"g4":0.3,"g5":1,"g6":0.45,"g7":0.65,"g8":0.1,"g9":0.7,"g10":0.35,"tgt":0.57,"med":0.69,"p16":0.36,"p84":0.95,"red":0.5},
{"p":6,"T":0.1,"g1":1.5,"g2":0.7,"g3":1.3,"g4":0.4,"g5":1.5,"g6":0.6,"g7":0.95,"g8":0.12,"g9":1.1,"g10":0.5,"tgt":0.75,"med":0.74,"p16":0.4,"p84":1.15,"red":0.6},
{"p":6,"T":0.13,"g1":2,"g2":1,"g3":1.2,"g4":0.5,"g5":1.3,"g6":0.7,"g7":1.3,"g8":0.14,"g9":1.5,"g10":0.6,"tgt":0.75,"med":0.75,"p16":0.44,"p84":1.2,"red":0.64},
{"p":6,"T":0.16,"g1":1.6,"g2":1.3,"g3":2.6,"g4":0.55,"g5":1.8,"g6":0.65,"g7":1.1,"g8":0.16,"g9":1.3,"g10":0.7,"tgt":0.75,"med":0.76,"p16":0.46,"p84":1.35,"red":0.66},
{"p":6,"T":0.2,"g1":1.4,"g2":1.2,"g3":1.8,"g4":0.6,"g5":1.6,"g6":0.8,"g7":1.5,"g8":0.18,"g9":1.8,"g10":0.85,"tgt":0.75,"med":0.78,"p16":0.47,"p84":1.47,"red":0.68},
{"p":6,"T":0.23,"g1":1.6,"g2":1.5,"g3":1.5,"g4":0.65,"g5":1.9,"g6":0.75,"g7":1.3,"g8":0.2,"g9":1.5,"g10":1,"tgt":0.75,"med":0.78,"p16":0.45,"p84":1.4,"red":0.67},
{"p":6,"T":0.26,"g1":1.3,"g2":2.7,"g3":1.4,"g4":0.6,"g5":1.6,"g6":0.9,"g7":1.7,"g8":0.22,"g9":1.3,"g10":1.2,"tgt":0.75,"med":0.8,"p16":0.44,"p84":1.3,"red":0.68},
{"p":6,"T":0.3,"g1":1.4,"g2":1.8,"g3":1.3,"g4":0.7,"g5":2.2,"g6":0.85,"g7":1.5,"g8":0.24,"g9":1.2,"g10":1.3,"tgt":0.75,"med":0.82,"p16":0.43,"p84":1.3,"red":0.68},
{"p":6,"T":0.34,"g1":1.2,"g2":1.5,"g3":1.2,"g4":0.75,"g5":1.7,"g6":1,"g7":1.6,"g8":0.25,"g9":1.4,"g10":1.4,"tgt":0.75,"med":0.78,"p16":0.42,"p84":1.4,"red":0.67},
{"p":6,"T":0.38,"g1":1.1,"g2":1.3,"g3":1.1,"g4":0.8,"g5":1.5,"g6":1.2,"g7":2,"g8":0.26,"g9":1.2,"g10":1.6,"tgt":0.75,"med":0.76,"p16":0.42,"p84":1.42,"red":0.68},
{"p":6,"T":0.42,"g1":1,"g2":1.2,"g3":1,"g4":0.85,"g5":1.3,"g6":1.1,"g7":2.4,"g8":0.27,"g9":1.1,"g10":1.8,"tgt":0.75,"med":0.77,"p16":0.4,"p84":1.45,"red":0.66},
{"p":6,"T":0.46,"g1":0.95,"g2":1.1,"g3":0.95,"g4":0.9,"g5":1.2,"g6":1.4,"g7":2.8,"g8":0.28,"g9":1,"g10":2,"tgt":0.75,"med":0.75,"p16":0.38,"p84":1.47,"red":0.6},
{"p":6,"T":0.5,"g1":0.9,"g2":1,"g3":0.9,"g4":0.95,"g5":1.1,"g6":1.6,"g7":2,"g8":0.29,"g9":0.9,"g10":2.15,"tgt":0.75,"med":0.7,"p16":0.37,"p84":1.35,"red":0.55},
{"p":6,"T":0.55,"g1":0.8,"g2":0.9,"g3":0.85,"g4":1,"g5":1,"g6":1.3,"g7":1.5,"g8":0.3,"g9":0.8,"g10":2.2,"tgt":0.682,"med":0.62,"p16":0.36,"p84":1.2,"red":0.52},
{"p":6,"T":0.6,"g1":0.7,"g2":0.8,"g3":0.8,"g4":1.05,"g5":0.9,"g6":1.1,"g7":1.3,"g8":0.31,"g9":0.7,"g10":2,"tgt":0.625,"med":0.58,"p16":0.33,"p84":1.12,"red":0.48},
{"p":6,"T":0.7,"g1":0.6,"g2":0.65,"g3":0.65,"g4":1.6,"g5":0.7,"g6":0.9,"g7":1,"g8":0.32,"g9":0.55,"g10":2.3,"tgt":0.536,"med":0.52,"p16":0.28,"p84":0.95,"red":0.4},
{"p":6,"T":0.8,"g1":0.5,"g2":0.55,"g3":0.55,"g4":1.1,"g5":0.58,"g6":0.7,"g7":0.8,"g8":0.32,"g9":0.48,"g10":1.8,"tgt":0.469,"med":0.47,"p16":0.26,"p84":0.85,"red":0.35},
{"p":6,"T":0.9,"g1":0.43,"g2":0.48,"g3":0.47,"g4":0.8,"g5":0.5,"g6":0.55,"g7":0.65,"g8":0.31,"g9":0.42,"g10":1.4,"tgt":0.417,"med":0.43,"p16":0.245,"p84":0.78,"red":0.32},
{"p":6,"T":1,"g1":0.38,"g2":0.42,"g3":0.42,"g4":0.6,"g5":0.44,"g6":0.47,"g7":0.55,"g8":0.3,"g9":0.38,"g10":1.15,"tgt":0.375,"med":0.4,"p16":0.24,"p84":0.7,"red":0.3},
{"p":6,"T":1.15,"g1":0.33,"g2":0.36,"g3":0.36,"g4":0.48,"g5":0.38,"g6":0.4,"g7":0.45,"g8":0.28,"g9":0.33,"g10":0.9,"tgt":0.326,"med":0.36,"p16":0.22,"p84":0.62,"red":0.28},
{"p":6,"T":1.3,"g1":0.29,"g2":0.31,"g3":0.32,"g4":0.4,"g5":0.33,"g6":0.34,"g7":0.38,"g8":0.26,"g9":0.29,"g10":0.7,"tgt":0.288,"med":0.32,"p16":0.2,"p84":0.52,"red":0.26},
{"p":6,"T":1.45,"g1":0.26,"g2":0.28,"g3":0.28,"g4":0.34,"g5":0.29,"g6":0.3,"g7":0.32,"g8":0.24,"g9":0.26,"g10":0.55,"tgt":0.259,"med":0.29,"p16":0.18,"p84":0.45,"red":0.24},
{"p":6,"T":1.6,"g1":0.24,"g2":0.25,"g3":0.25,"g4":0.28,"g5":0.26,"g6":0.26,"g7":0.27,"g8":0.22,"g9":0.23,"g10":0.42,"tgt":0.234,"med":0.25,"p16":0.165,"p84":0.37,"red":0.22},
{"p":6,"T":1.8,"g1":0.21,"g2":0.22,"g3":0.22,"g4":0.23,"g5":0.22,"g6":0.22,"g7":0.23,"g8":0.2,"g9":0.21,"g10":0.28,"tgt":0.208,"med":0.22,"p16":0.16,"p84":0.28,"red":0.21},
{"p":6,"T":2,"g1":0.19,"g2":0.19,"g3":0.19,"g4":0.19,"g5":0.19,"g6":0.19,"g7":0.19,"g8":0.19,"g9":0.19,"g10":0.2,"tgt":0.188,"med":0.19,"p16":0.19,"p84":0.21,"red":0.19},
{"p":6,"T":2.25,"g1":0.17,"g2":0.2,"g3":0.15,"g4":0.22,"g5":0.15,"g6":0.24,"g7":0.16,"g8":0.17,"g9":0.18,"g10":0.15,"tgt":0.148,"med":0.15,"p16":0.13,"p84":0.18,"red":0.15},
{"p":6,"T":2.5,"g1":0.14,"g2":0.19,"g3":0.12,"g4":0.2,"g5":0.12,"g6":0.26,"g7":0.13,"g8":0.15,"g9":0.16,"g10":0.12,"tgt":0.12,"med":0.11,"p16":0.1,"p84":0.16,"red":0.11},
{"p":6,"T":2.75,"g1":0.12,"g2":0.17,"g3":0.1,"g4":0.18,"g5":0.1,"g6":0.24,"g7":0.11,"g8":0.13,"g9":0.14,"g10":0.1,"tgt":0.099,"med":0.09,"p16":0.075,"p84":0.14,"red":0.09},
{"p":6,"T":3,"g1":0.1,"g2":0.15,"g3":0.08,"g4":0.16,"g5":0.08,"g6":0.22,"g7":0.09,"g8":0.11,"g9":0.12,"g10":0.08,"tgt":0.083,"med":0.07,"p16":0.06,"p84":0.115,"red":0.07}
]},
"data":{"name":"d"},
"columns":3,
"spacing":{"row":78,"column":52},
"bounds":"flush",
"resolve":{"scale":{"color":"independent","strokeDash":"independent","strokeWidth":"independent"}},
"concat":[
{"width":334,"height":305,"transform":[{"filter":{"field":"p","equal":1}}],"resolve":{"axis":{"x":"independent","y":"independent"}},
"layer":[
{"transform":[{"fold":["g1","g2","g3","g4","g5","g6","g7","g8","g9","g10","tgt","red","p16","p84","med"],"as":["k","v"]},{"lookup":"k","from":{"data":{"name":"keys"},"key":"k","fields":["s"]}}],
"mark":{"type":"line","clip":true},
"encoding":{"x":{"field":"T","type":"quantitative","scale":{"domain":[0,3],"nice":false,"zero":false},"axis":{"values":[0,1,2,3],"title":"T (s)"}},
"y":{"field":"v","type":"quantitative","scale":{"domain":[0,3],"nice":false},"axis":{"values":[0,0.5,1,1.5,2,2.5,3],"format":"~g","labelExpr":"replace(datum.label,'.',',')","title":"S\u2090(T) (g)"}},
"detail":{"field":"k","type":"nominal"},
"color":{"field":"s","type":"nominal","scale":{"domain":["Ciljni spekter","Mediana na osnovi S\u2090(T\u2081)","16. in 84. percentila","Mediana na osnovi ag","Spekter odziva"],"range":["#8a8a8a","#000000","#000000","#ff0000","#c2c2c2"]},"legend":{"title":null,"orient":"top-right","symbolType":"M-3.2,0H3.2"}},
"strokeDash":{"field":"s","type":"nominal","scale":{"domain":["Ciljni spekter","Mediana na osnovi S\u2090(T\u2081)","16. in 84. percentila","Mediana na osnovi ag","Spekter odziva"],"range":[[1,0],[1,0],[13,8],[10,5,2,5],[1,0]]},"legend":{"title":null,"orient":"top-right","symbolType":"M-3.2,0H3.2"}},
"strokeWidth":{"field":"s","type":"nominal","scale":{"type":"ordinal","domain":["Ciljni spekter","Mediana na osnovi S\u2090(T\u2081)","16. in 84. percentila","Mediana na osnovi ag","Spekter odziva"],"range":[6,2.2,2.4,2,1.2]},"legend":{"title":null,"orient":"top-right","symbolType":"M-3.2,0H3.2"}}}},
{"data":{"values":[{"p":1,"label":"4-etažna\nstavba"}]},"mark":{"type":"text","align":"right","baseline":"middle","lineBreak":"\n","lineHeight":25,"fontSize":20,"font":"Liberation Serif"},"encoding":{"x":{"datum":2.92,"type":"quantitative","axis":{"orient":"top","values":[0,1,2,3],"labels":false,"title":null}},"y":{"datum":1.27,"type":"quantitative","axis":{"orient":"right","values":[0,0.5,1,1.5,2,2.5,3],"labels":false,"title":null}},"text":{"field":"label"}}}
]},
{"width":334,"height":305,"transform":[{"filter":{"field":"p","equal":2}}],"resolve":{"axis":{"x":"independent","y":"independent"}},
"layer":[
{"transform":[{"fold":["g1","g2","g3","g4","g5","g6","g7","g8","g9","g10","tgt","red","p16","p84","med"],"as":["k","v"]},{"lookup":"k","from":{"data":{"name":"keys"},"key":"k","fields":["s"]}}],
"mark":{"type":"line","clip":true},
"encoding":{"x":{"field":"T","type":"quantitative","scale":{"domain":[0,3],"nice":false,"zero":false},"axis":{"values":[0,1,2,3],"title":"T (s)"}},
"y":{"field":"v","type":"quantitative","scale":{"domain":[0,3],"nice":false},"axis":{"values":[0,0.5,1,1.5,2,2.5,3],"format":"~g","labelExpr":"replace(datum.label,'.',',')","title":null}},
"detail":{"field":"k","type":"nominal"},
"color":{"field":"s","type":"nominal","scale":{"domain":["Ciljni spekter","Mediana na osnovi S\u2090(T\u2081)","16. in 84. percentila","Mediana na osnovi ag","Spekter odziva"],"range":["#8a8a8a","#000000","#000000","#ff0000","#c2c2c2"]},"legend":{"title":null,"orient":"top-right","symbolType":"M-3.2,0H3.2"}},
"strokeDash":{"field":"s","type":"nominal","scale":{"domain":["Ciljni spekter","Mediana na osnovi S\u2090(T\u2081)","16. in 84. percentila","Mediana na osnovi ag","Spekter odziva"],"range":[[1,0],[1,0],[13,8],[10,5,2,5],[1,0]]},"legend":{"title":null,"orient":"top-right","symbolType":"M-3.2,0H3.2"}},
"strokeWidth":{"field":"s","type":"nominal","scale":{"type":"ordinal","domain":["Ciljni spekter","Mediana na osnovi S\u2090(T\u2081)","16. in 84. percentila","Mediana na osnovi ag","Spekter odziva"],"range":[6,2.2,2.4,2,1.2]},"legend":{"title":null,"orient":"top-right","symbolType":"M-3.2,0H3.2"}}}},
{"data":{"values":[{"p":2,"label":"6-etažna\nstavba"}]},"mark":{"type":"text","align":"right","baseline":"middle","lineBreak":"\n","lineHeight":25,"fontSize":20,"font":"Liberation Serif"},"encoding":{"x":{"datum":2.92,"type":"quantitative","axis":{"orient":"top","values":[0,1,2,3],"labels":false,"title":null}},"y":{"datum":1.27,"type":"quantitative","axis":{"orient":"right","values":[0,0.5,1,1.5,2,2.5,3],"labels":false,"title":null}},"text":{"field":"label"}}}
]},
{"width":334,"height":305,"transform":[{"filter":{"field":"p","equal":3}}],"resolve":{"axis":{"x":"independent","y":"independent"}},
"layer":[
{"transform":[{"fold":["g1","g2","g3","g4","g5","g6","g7","g8","g9","g10","tgt","red","p16","p84","med"],"as":["k","v"]},{"lookup":"k","from":{"data":{"name":"keys"},"key":"k","fields":["s"]}}],
"mark":{"type":"line","clip":true},
"encoding":{"x":{"field":"T","type":"quantitative","scale":{"domain":[0,3],"nice":false,"zero":false},"axis":{"values":[0,1,2,3],"title":"T (s)"}},
"y":{"field":"v","type":"quantitative","scale":{"domain":[0,3],"nice":false},"axis":{"values":[0,0.5,1,1.5,2,2.5,3],"format":"~g","labelExpr":"replace(datum.label,'.',',')","title":null}},
"detail":{"field":"k","type":"nominal"},
"color":{"field":"s","type":"nominal","scale":{"domain":["Ciljni spekter","Mediana na osnovi S\u2090(T\u2081)","16. in 84. percentila","Mediana na osnovi ag","Spekter odziva"],"range":["#8a8a8a","#000000","#000000","#ff0000","#c2c2c2"]},"legend":{"title":null,"orient":"top-right","symbolType":"M-3.2,0H3.2"}},
"strokeDash":{"field":"s","type":"nominal","scale":{"domain":["Ciljni spekter","Mediana na osnovi S\u2090(T\u2081)","16. in 84. percentila","Mediana na osnovi ag","Spekter odziva"],"range":[[1,0],[1,0],[13,8],[10,5,2,5],[1,0]]},"legend":{"title":null,"orient":"top-right","symbolType":"M-3.2,0H3.2"}},
"strokeWidth":{"field":"s","type":"nominal","scale":{"type":"ordinal","domain":["Ciljni spekter","Mediana na osnovi S\u2090(T\u2081)","16. in 84. percentila","Mediana na osnovi ag","Spekter odziva"],"range":[6,2.2,2.4,2,1.2]},"legend":{"title":null,"orient":"top-right","symbolType":"M-3.2,0H3.2"}}}},
{"data":{"values":[{"p":3,"label":"8-etažna\nnepravilna stavba"}]},"mark":{"type":"text","align":"right","baseline":"middle","lineBreak":"\n","lineHeight":25,"fontSize":20,"font":"Liberation Serif"},"encoding":{"x":{"datum":2.92,"type":"quantitative","axis":{"orient":"top","values":[0,1,2,3],"labels":false,"title":null}},"y":{"datum":1.27,"type":"quantitative","axis":{"orient":"right","values":[0,0.5,1,1.5,2,2.5,3],"labels":false,"title":null}},"text":{"field":"label"}}}
]},
{"width":334,"height":305,"transform":[{"filter":{"field":"p","equal":4}}],"resolve":{"axis":{"x":"independent","y":"independent"}},
"layer":[
{"transform":[{"fold":["g1","g2","g3","g4","g5","g6","g7","g8","g9","g10","tgt","red","p16","p84","med"],"as":["k","v"]},{"lookup":"k","from":{"data":{"name":"keys"},"key":"k","fields":["s"]}}],
"mark":{"type":"line","clip":true},
"encoding":{"x":{"field":"T","type":"quantitative","scale":{"domain":[0,3],"nice":false,"zero":false},"axis":{"values":[0,1,2,3],"title":"T (s)"}},
"y":{"field":"v","type":"quantitative","scale":{"domain":[0,3],"nice":false},"axis":{"values":[0,0.5,1,1.5,2,2.5,3],"format":"~g","labelExpr":"replace(datum.label,'.',',')","title":"S\u2090(T) (g)"}},
"detail":{"field":"k","type":"nominal"},
"color":{"field":"s","type":"nominal","scale":{"domain":["Ciljni spekter","Mediana na osnovi S\u2090(T\u2081)","16. in 84. percentila","Mediana na osnovi ag","Spekter odziva"],"range":["#8a8a8a","#000000","#000000","#ff0000","#c2c2c2"]},"legend":{"title":null,"orient":"top-right","symbolType":"M-3.2,0H3.2"}},
"strokeDash":{"field":"s","type":"nominal","scale":{"domain":["Ciljni spekter","Mediana na osnovi S\u2090(T\u2081)","16. in 84. percentila","Mediana na osnovi ag","Spekter odziva"],"range":[[1,0],[1,0],[13,8],[10,5,2,5],[1,0]]},"legend":{"title":null,"orient":"top-right","symbolType":"M-3.2,0H3.2"}},
"strokeWidth":{"field":"s","type":"nominal","scale":{"type":"ordinal","domain":["Ciljni spekter","Mediana na osnovi S\u2090(T\u2081)","16. in 84. percentila","Mediana na osnovi ag","Spekter odziva"],"range":[6,2.2,2.4,2,1.2]},"legend":{"title":null,"orient":"top-right","symbolType":"M-3.2,0H3.2"}}}},
{"data":{"values":[{"p":4,"label":"8-etažna\npravilna stavba"}]},"mark":{"type":"text","align":"right","baseline":"middle","lineBreak":"\n","lineHeight":25,"fontSize":20,"font":"Liberation Serif"},"encoding":{"x":{"datum":2.92,"type":"quantitative","axis":{"orient":"top","values":[0,1,2,3],"labels":false,"title":null}},"y":{"datum":1.27,"type":"quantitative","axis":{"orient":"right","values":[0,0.5,1,1.5,2,2.5,3],"labels":false,"title":null}},"text":{"field":"label"}}}
]},
{"width":334,"height":305,"transform":[{"filter":{"field":"p","equal":5}}],"resolve":{"axis":{"x":"independent","y":"independent"}},
"layer":[
{"transform":[{"fold":["g1","g2","g3","g4","g5","g6","g7","g8","g9","g10","tgt","red","p16","p84","med"],"as":["k","v"]},{"lookup":"k","from":{"data":{"name":"keys"},"key":"k","fields":["s"]}}],
"mark":{"type":"line","clip":true},
"encoding":{"x":{"field":"T","type":"quantitative","scale":{"domain":[0,3],"nice":false,"zero":false},"axis":{"values":[0,1,2,3],"title":"T (s)"}},
"y":{"field":"v","type":"quantitative","scale":{"domain":[0,3],"nice":false},"axis":{"values":[0,0.5,1,1.5,2,2.5,3],"format":"~g","labelExpr":"replace(datum.label,'.',',')","title":null}},
"detail":{"field":"k","type":"nominal"},
"color":{"field":"s","type":"nominal","scale":{"domain":["Ciljni spekter","Mediana na osnovi S\u2090(T\u2081)","16. in 84. percentila","Mediana na osnovi ag","Spekter odziva"],"range":["#8a8a8a","#000000","#000000","#ff0000","#c2c2c2"]},"legend":{"title":null,"orient":"top-right","symbolType":"M-3.2,0H3.2"}},
"strokeDash":{"field":"s","type":"nominal","scale":{"domain":["Ciljni spekter","Mediana na osnovi S\u2090(T\u2081)","16. in 84. percentila","Mediana na osnovi ag","Spekter odziva"],"range":[[1,0],[1,0],[13,8],[10,5,2,5],[1,0]]},"legend":{"title":null,"orient":"top-right","symbolType":"M-3.2,0H3.2"}},
"strokeWidth":{"field":"s","type":"nominal","scale":{"type":"ordinal","domain":["Ciljni spekter","Mediana na osnovi S\u2090(T\u2081)","16. in 84. percentila","Mediana na osnovi ag","Spekter odziva"],"range":[6,2.2,2.4,2,1.2]},"legend":{"title":null,"orient":"top-right","symbolType":"M-3.2,0H3.2"}}}},
{"data":{"values":[{"p":5,"label":"11-etažna\nstavba"}]},"mark":{"type":"text","align":"right","baseline":"middle","lineBreak":"\n","lineHeight":25,"fontSize":20,"font":"Liberation Serif"},"encoding":{"x":{"datum":2.92,"type":"quantitative","axis":{"orient":"top","values":[0,1,2,3],"labels":false,"title":null}},"y":{"datum":1.27,"type":"quantitative","axis":{"orient":"right","values":[0,0.5,1,1.5,2,2.5,3],"labels":false,"title":null}},"text":{"field":"label"}}}
]},
{"width":334,"height":305,"transform":[{"filter":{"field":"p","equal":6}}],"resolve":{"axis":{"x":"independent","y":"independent"}},
"layer":[
{"transform":[{"fold":["g1","g2","g3","g4","g5","g6","g7","g8","g9","g10","tgt","red","p16","p84","med"],"as":["k","v"]},{"lookup":"k","from":{"data":{"name":"keys"},"key":"k","fields":["s"]}}],
"mark":{"type":"line","clip":true},
"encoding":{"x":{"field":"T","type":"quantitative","scale":{"domain":[0,3],"nice":false,"zero":false},"axis":{"values":[0,1,2,3],"title":"T (s)"}},
"y":{"field":"v","type":"quantitative","scale":{"domain":[0,3],"nice":false},"axis":{"values":[0,0.5,1,1.5,2,2.5,3],"format":"~g","labelExpr":"replace(datum.label,'.',',')","title":null}},
"detail":{"field":"k","type":"nominal"},
"color":{"field":"s","type":"nominal","scale":{"domain":["Ciljni spekter","Mediana na osnovi S\u2090(T\u2081)","16. in 84. percentila","Mediana na osnovi ag","Spekter odziva"],"range":["#8a8a8a","#000000","#000000","#ff0000","#c2c2c2"]},"legend":{"title":null,"orient":"top-right","symbolType":"M-3.2,0H3.2"}},
"strokeDash":{"field":"s","type":"nominal","scale":{"domain":["Ciljni spekter","Mediana na osnovi S\u2090(T\u2081)","16. in 84. percentila","Mediana na osnovi ag","Spekter odziva"],"range":[[1,0],[1,0],[13,8],[10,5,2,5],[1,0]]},"legend":{"title":null,"orient":"top-right","symbolType":"M-3.2,0H3.2"}},
"strokeWidth":{"field":"s","type":"nominal","scale":{"type":"ordinal","domain":["Ciljni spekter","Mediana na osnovi S\u2090(T\u2081)","16. in 84. percentila","Mediana na osnovi ag","Spekter odziva"],"range":[6,2.2,2.4,2,1.2]},"legend":{"title":null,"orient":"top-right","symbolType":"M-3.2,0H3.2"}}}},
{"data":{"values":[{"p":6,"label":"15-etažna\nstavba"}]},"mark":{"type":"text","align":"right","baseline":"middle","lineBreak":"\n","lineHeight":25,"fontSize":20,"font":"Liberation Serif"},"encoding":{"x":{"datum":2.92,"type":"quantitative","axis":{"orient":"top","values":[0,1,2,3],"labels":false,"title":null}},"y":{"datum":1.27,"type":"quantitative","axis":{"orient":"right","values":[0,0.5,1,1.5,2,2.5,3],"labels":false,"title":null}},"text":{"field":"label"}}}
]}
],
"config":{
"font":"Liberation Serif",
"view":{"stroke":null},
"axis":{"domainColor":"black","domainWidth":1.8,"tickColor":"black","tickWidth":1.2,"tickSize":-5,"labelFont":"Liberation Serif","labelFontSize":20,"labelColor":"black","labelPadding":14,"labelFlush":false,"labelOverlap":false,"grid":false,"titleFont":"Liberation Serif","titleFontSize":20,"titleFontWeight":"normal","titleColor":"black"},
"axisX":{"titlePadding":7,"labelPadding":18},
"axisY":{"titlePadding":24},
"legend":{"orient":"top-right","offset":9,"padding":0,"symbolSize":196,"labelFont":"Liberation Serif","labelFontSize":20,"labelColor":"black","labelOffset":22,"rowPadding":6,"labelLimit":400}
}
}
